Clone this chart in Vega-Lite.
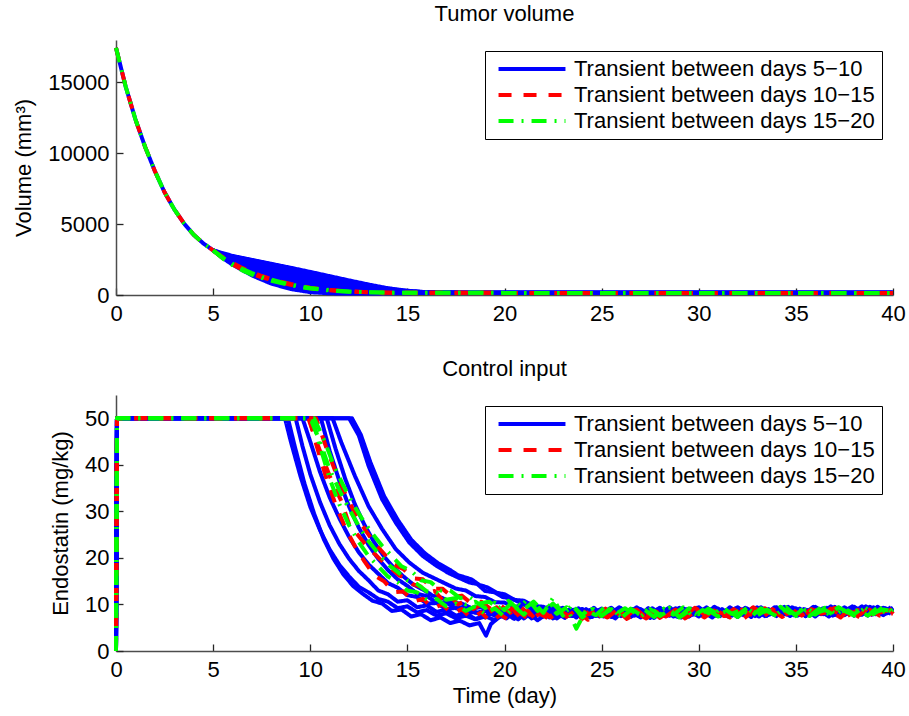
{
"$schema":"https://vega.github.io/schema/vega-lite/v6.json",
"padding":{"left":12,"top":3,"right":5,"bottom":5},
"bounds":"flush",
"spacing":100,
"config":{
"font":"Liberation Sans",
"view":{"stroke":null},
"axis":{"grid":false,"labelFontSize":22,"titleFontSize":22,"titleFontWeight":"normal","labelColor":"#000","titleColor":"#000","domainColor":"#4d4d4d","domainWidth":1.5,"tickColor":"#262626","tickWidth":1.3,"tickSize":-7,"labelFlush":false,"labelOverlap":false,"labelFont":"Liberation Sans","titleFont":"Liberation Sans"},
"axisX":{"labelPadding":15,"titlePadding":5},
"axisY":{"labelPadding":14,"titlePadding":12},
"title":{"fontSize":22,"fontWeight":"normal","color":"#000","offset":14,"anchor":"middle","frame":"group","font":"Liberation Sans"},
"legend":{"orient":"top-right","offset":11,"strokeColor":"#000","fillColor":"#fff","padding":7,"symbolType":"M-4,0H4","symbolSize":280,"symbolOffset":29,"symbolStrokeWidth":4.5,"labelFontSize":22,"labelColor":"#000","labelOffset":31,"rowPadding":4,"labelLimit":0,"labelFont":"Liberation Sans"},
"line":{"strokeWidth":4,"strokeCap":"butt","strokeJoin":"round"}
},
"datasets":{
"series":[
{"s":"b0","k":"b","name":"Transient between days 5−10"},
{"s":"r0","k":"r","name":"Transient between days 10−15"},
{"s":"g0","k":"g","name":"Transient between days 15−20"},
{"s":"bt1","k":"b","name":"Transient between days 5−10"},
{"s":"bt2","k":"b","name":"Transient between days 5−10"},
{"s":"bt3","k":"b","name":"Transient between days 5−10"},
{"s":"bt4","k":"b","name":"Transient between days 5−10"},
{"s":"bt5","k":"b","name":"Transient between days 5−10"},
{"s":"bt6","k":"b","name":"Transient between days 5−10"},
{"s":"bt7","k":"b","name":"Transient between days 5−10"},
{"s":"bt8","k":"b","name":"Transient between days 5−10"},
{"s":"rt1","k":"r","name":"Transient between days 10−15"},
{"s":"rt2","k":"r","name":"Transient between days 10−15"},
{"s":"gt1","k":"g","name":"Transient between days 15−20"},
{"s":"gt2","k":"g","name":"Transient between days 15−20"},
{"s":"B1","k":"b","name":"Transient between days 5−10"},
{"s":"B2","k":"b","name":"Transient between days 5−10"},
{"s":"B3","k":"b","name":"Transient between days 5−10"},
{"s":"B4","k":"b","name":"Transient between days 5−10"},
{"s":"B5","k":"b","name":"Transient between days 5−10"},
{"s":"B6","k":"b","name":"Transient between days 5−10"},
{"s":"B7","k":"b","name":"Transient between days 5−10"},
{"s":"B8","k":"b","name":"Transient between days 5−10"},
{"s":"B9","k":"b","name":"Transient between days 5−10"},
{"s":"R1","k":"r","name":"Transient between days 10−15"},
{"s":"R2","k":"r","name":"Transient between days 10−15"},
{"s":"R3","k":"r","name":"Transient between days 10−15"},
{"s":"G1","k":"g","name":"Transient between days 15−20"},
{"s":"G2","k":"g","name":"Transient between days 15−20"},
{"s":"G3","k":"g","name":"Transient between days 15−20"}
],
"vol":[
{"s":"b0","t":0,"v":17450},{"s":"b0","t":0.5,"v":14700},{"s":"b0","t":1,"v":12400},{"s":"b0","t":1.5,"v":10450},{"s":"b0","t":2,"v":8750},{"s":"b0","t":2.5,"v":7250},{"s":"b0","t":3,"v":6050},{"s":"b0","t":3.5,"v":5050},{"s":"b0","t":4,"v":4250},{"s":"b0","t":4.5,"v":3640},{"s":"b0","t":5,"v":3150},
{"s":"r0","t":0,"v":17450},{"s":"r0","t":0.5,"v":14700},{"s":"r0","t":1,"v":12400},{"s":"r0","t":1.5,"v":10450},{"s":"r0","t":2,"v":8750},{"s":"r0","t":2.5,"v":7250},{"s":"r0","t":3,"v":6050},{"s":"r0","t":3.5,"v":5050},{"s":"r0","t":4,"v":4250},{"s":"r0","t":4.5,"v":3640},{"s":"r0","t":5,"v":3150},
{"s":"g0","t":0,"v":17450},{"s":"g0","t":0.5,"v":14700},{"s":"g0","t":1,"v":12400},{"s":"g0","t":1.5,"v":10450},{"s":"g0","t":2,"v":8750},{"s":"g0","t":2.5,"v":7250},{"s":"g0","t":3,"v":6050},{"s":"g0","t":3.5,"v":5050},{"s":"g0","t":4,"v":4250},{"s":"g0","t":4.5,"v":3640},{"s":"g0","t":5,"v":3150},
{"s":"bt1","t":5,"v":3150},{"s":"bt1","t":5.5,"v":2600},{"s":"bt1","t":6,"v":2140},{"s":"bt1","t":7,"v":1380},{"s":"bt1","t":8,"v":800},{"s":"bt1","t":9,"v":420},{"s":"bt1","t":10,"v":200},{"s":"bt1","t":11,"v":120},{"s":"bt1","t":12,"v":100},{"s":"bt1","t":13,"v":105},{"s":"bt1","t":14,"v":120},{"s":"bt1","t":15,"v":130},{"s":"bt1","t":16,"v":140},{"s":"bt1","t":18,"v":150},{"s":"bt1","t":40,"v":150},
{"s":"bt2","t":5,"v":3150},{"s":"bt2","t":5.5,"v":2650},{"s":"bt2","t":6,"v":2230},{"s":"bt2","t":7,"v":1545},{"s":"bt2","t":8,"v":1010},{"s":"bt2","t":9,"v":645},{"s":"bt2","t":10,"v":415},{"s":"bt2","t":11,"v":300},{"s":"bt2","t":12,"v":240},{"s":"bt2","t":13,"v":200},{"s":"bt2","t":14,"v":175},{"s":"bt2","t":15,"v":155},{"s":"bt2","t":16,"v":150},{"s":"bt2","t":18,"v":152},{"s":"bt2","t":40,"v":150},
{"s":"bt3","t":5,"v":3150},{"s":"bt3","t":5.5,"v":2705},{"s":"bt3","t":6,"v":2325},{"s":"bt3","t":7,"v":1710},{"s":"bt3","t":8,"v":1220},{"s":"bt3","t":9,"v":870},{"s":"bt3","t":10,"v":630},{"s":"bt3","t":11,"v":480},{"s":"bt3","t":12,"v":380},{"s":"bt3","t":13,"v":295},{"s":"bt3","t":14,"v":230},{"s":"bt3","t":15,"v":180},{"s":"bt3","t":16,"v":158},{"s":"bt3","t":18,"v":154},{"s":"bt3","t":40,"v":150},
{"s":"bt4","t":5,"v":3150},{"s":"bt4","t":5.5,"v":2760},{"s":"bt4","t":6,"v":2420},{"s":"bt4","t":7,"v":1875},{"s":"bt4","t":8,"v":1430},{"s":"bt4","t":9,"v":1095},{"s":"bt4","t":10,"v":845},{"s":"bt4","t":11,"v":665},{"s":"bt4","t":12,"v":520},{"s":"bt4","t":13,"v":390},{"s":"bt4","t":14,"v":280},{"s":"bt4","t":15,"v":205},{"s":"bt4","t":16,"v":167},{"s":"bt4","t":18,"v":156},{"s":"bt4","t":40,"v":150},
{"s":"bt5","t":5,"v":3150},{"s":"bt5","t":5.5,"v":2810},{"s":"bt5","t":6,"v":2510},{"s":"bt5","t":7,"v":2040},{"s":"bt5","t":8,"v":1640},{"s":"bt5","t":9,"v":1320},{"s":"bt5","t":10,"v":1060},{"s":"bt5","t":11,"v":845},{"s":"bt5","t":12,"v":660},{"s":"bt5","t":13,"v":485},{"s":"bt5","t":14,"v":335},{"s":"bt5","t":15,"v":230},{"s":"bt5","t":16,"v":176},{"s":"bt5","t":18,"v":157},{"s":"bt5","t":40,"v":150},
{"s":"bt6","t":5,"v":3150},{"s":"bt6","t":5.5,"v":2860},{"s":"bt6","t":6,"v":2605},{"s":"bt6","t":7,"v":2205},{"s":"bt6","t":8,"v":1850},{"s":"bt6","t":9,"v":1545},{"s":"bt6","t":10,"v":1270},{"s":"bt6","t":11,"v":1030},{"s":"bt6","t":12,"v":800},{"s":"bt6","t":13,"v":580},{"s":"bt6","t":14,"v":390},{"s":"bt6","t":15,"v":258},{"s":"bt6","t":16,"v":185},{"s":"bt6","t":18,"v":158},{"s":"bt6","t":40,"v":150},
{"s":"bt7","t":5,"v":3150},{"s":"bt7","t":5.5,"v":2910},{"s":"bt7","t":6,"v":2685},{"s":"bt7","t":7,"v":2350},{"s":"bt7","t":8,"v":2030},{"s":"bt7","t":9,"v":1740},{"s":"bt7","t":10,"v":1460},{"s":"bt7","t":11,"v":1185},{"s":"bt7","t":12,"v":920},{"s":"bt7","t":13,"v":665},{"s":"bt7","t":14,"v":435},{"s":"bt7","t":15,"v":280},{"s":"bt7","t":16,"v":193},{"s":"bt7","t":18,"v":159},{"s":"bt7","t":40,"v":150},
{"s":"bt8","t":5,"v":3150},{"s":"bt8","t":5.5,"v":2950},{"s":"bt8","t":6,"v":2760},{"s":"bt8","t":7,"v":2480},{"s":"bt8","t":8,"v":2200},{"s":"bt8","t":9,"v":1920},{"s":"bt8","t":10,"v":1630},{"s":"bt8","t":11,"v":1330},{"s":"bt8","t":12,"v":1030},{"s":"bt8","t":13,"v":740},{"s":"bt8","t":14,"v":480},{"s":"bt8","t":15,"v":300},{"s":"bt8","t":16,"v":200},{"s":"bt8","t":18,"v":160},{"s":"bt8","t":40,"v":150},
{"s":"rt1","t":5,"v":3150},{"s":"rt1","t":5.5,"v":2600},{"s":"rt1","t":6,"v":2150},{"s":"rt1","t":6.5,"v":1800},{"s":"rt1","t":7,"v":1500},{"s":"rt1","t":7.5,"v":1250},{"s":"rt1","t":8,"v":1060},{"s":"rt1","t":8.5,"v":880},{"s":"rt1","t":9,"v":720},{"s":"rt1","t":9.5,"v":590},{"s":"rt1","t":10,"v":480},{"s":"rt1","t":11,"v":330},{"s":"rt1","t":12,"v":240},{"s":"rt1","t":13,"v":190},{"s":"rt1","t":14,"v":165},{"s":"rt1","t":15,"v":155},{"s":"rt1","t":20,"v":150},{"s":"rt1","t":40,"v":150},
{"s":"rt2","t":5,"v":3150},{"s":"rt2","t":5.5,"v":2680},{"s":"rt2","t":6,"v":2260},{"s":"rt2","t":6.5,"v":1910},{"s":"rt2","t":7,"v":1600},{"s":"rt2","t":7.5,"v":1340},{"s":"rt2","t":8,"v":1130},{"s":"rt2","t":8.5,"v":940},{"s":"rt2","t":9,"v":775},{"s":"rt2","t":9.5,"v":635},{"s":"rt2","t":10,"v":515},{"s":"rt2","t":11,"v":355},{"s":"rt2","t":12,"v":255},{"s":"rt2","t":13,"v":200},{"s":"rt2","t":14,"v":170},{"s":"rt2","t":15,"v":158},{"s":"rt2","t":20,"v":150},{"s":"rt2","t":40,"v":150},
{"s":"gt1","t":5,"v":3150},{"s":"gt1","t":5.5,"v":2640},{"s":"gt1","t":6,"v":2200},{"s":"gt1","t":6.5,"v":1850},{"s":"gt1","t":7,"v":1550},{"s":"gt1","t":7.5,"v":1290},{"s":"gt1","t":8,"v":1090},{"s":"gt1","t":8.5,"v":905},{"s":"gt1","t":9,"v":745},{"s":"gt1","t":9.5,"v":610},{"s":"gt1","t":10,"v":495},{"s":"gt1","t":11,"v":340},{"s":"gt1","t":12,"v":245},{"s":"gt1","t":13,"v":193},{"s":"gt1","t":14,"v":167},{"s":"gt1","t":15,"v":156},{"s":"gt1","t":20,"v":150},{"s":"gt1","t":40,"v":150},
{"s":"gt2","t":5,"v":3150},{"s":"gt2","t":5.5,"v":2570},{"s":"gt2","t":6,"v":2100},{"s":"gt2","t":6.5,"v":1740},{"s":"gt2","t":7,"v":1440},{"s":"gt2","t":7.5,"v":1200},{"s":"gt2","t":8,"v":1010},{"s":"gt2","t":8.5,"v":840},{"s":"gt2","t":9,"v":690},{"s":"gt2","t":9.5,"v":565},{"s":"gt2","t":10,"v":460},{"s":"gt2","t":11,"v":315},{"s":"gt2","t":12,"v":232},{"s":"gt2","t":13,"v":186},{"s":"gt2","t":14,"v":163},{"s":"gt2","t":15,"v":154},{"s":"gt2","t":20,"v":150},{"s":"gt2","t":40,"v":150}
],
"ctl":[
{"s":"B1","t":0,"v":0},{"s":"B1","t":0.05,"v":50},{"s":"B1","t":8.7,"v":50},{"s":"B1","t":9,"v":45},{"s":"B1","t":9.5,"v":37.5},{"s":"B1","t":10,"v":31},{"s":"B1","t":10.5,"v":26},{"s":"B1","t":11,"v":21.8},{"s":"B1","t":11.5,"v":18.5},{"s":"B1","t":12,"v":16},{"s":"B1","t":12.5,"v":13.8},{"s":"B1","t":13,"v":12.6},{"s":"B1","t":13.5,"v":11.2},{"s":"B1","t":14,"v":10.6},{"s":"B1","t":14.5,"v":9.2},{"s":"B1","t":15,"v":9.6},{"s":"B1","t":15.5,"v":8.3},{"s":"B1","t":16,"v":8.8},{"s":"B1","t":16.5,"v":7.6},{"s":"B1","t":17,"v":8.1},{"s":"B1","t":17.5,"v":7},{"s":"B1","t":18,"v":7.6},{"s":"B1","t":18.5,"v":6.8},{"s":"B1","t":19,"v":7.4},{"s":"B1","t":19.5,"v":8.5},
{"s":"B1","t":20,"v":7.2},{"s":"B1","t":20.5,"v":8.9},{"s":"B1","t":21,"v":7},{"s":"B1","t":21.5,"v":8.6},{"s":"B1","t":22,"v":7.4},{"s":"B1","t":22.5,"v":9.2},{"s":"B1","t":23,"v":7.6},{"s":"B1","t":23.5,"v":8.8},{"s":"B1","t":24,"v":7.1},{"s":"B1","t":24.5,"v":8.5},{"s":"B1","t":25,"v":7.8},{"s":"B1","t":25.5,"v":9.3},{"s":"B1","t":26,"v":7.5},{"s":"B1","t":26.5,"v":8.7},{"s":"B1","t":27,"v":7.2},{"s":"B1","t":27.5,"v":8.9},{"s":"B1","t":28,"v":8},{"s":"B1","t":28.5,"v":9.4},{"s":"B1","t":29,"v":7.6},{"s":"B1","t":29.5,"v":8.6},{"s":"B1","t":30,"v":7.4},{"s":"B1","t":30.5,"v":9},{"s":"B1","t":31,"v":7.9},{"s":"B1","t":31.5,"v":8.8},{"s":"B1","t":32,"v":7.3},{"s":"B1","t":32.5,"v":9.1},{"s":"B1","t":33,"v":7.7},{"s":"B1","t":33.5,"v":8.6},{"s":"B1","t":34,"v":7.5},{"s":"B1","t":34.5,"v":9.3},{"s":"B1","t":35,"v":8},{"s":"B1","t":35.5,"v":8.9},{"s":"B1","t":36,"v":7.4},{"s":"B1","t":36.5,"v":9.2},{"s":"B1","t":37,"v":7.8},{"s":"B1","t":37.5,"v":9.4},{"s":"B1","t":38,"v":7.6},{"s":"B1","t":38.5,"v":8.7},{"s":"B1","t":39,"v":7.9},{"s":"B1","t":39.5,"v":9.3},{"s":"B1","t":40,"v":8.2},
{"s":"B2","t":0,"v":0},{"s":"B2","t":0.05,"v":50},{"s":"B2","t":8.85,"v":50},{"s":"B2","t":9.2,"v":44},{"s":"B2","t":9.7,"v":36},{"s":"B2","t":10.2,"v":29.5},{"s":"B2","t":10.7,"v":24},{"s":"B2","t":11.2,"v":19.8},{"s":"B2","t":11.7,"v":16.5},{"s":"B2","t":12.2,"v":14},{"s":"B2","t":12.7,"v":12.3},{"s":"B2","t":13.2,"v":10.8},{"s":"B2","t":13.7,"v":10.2},{"s":"B2","t":14.2,"v":8.6},{"s":"B2","t":14.7,"v":8.9},{"s":"B2","t":15.2,"v":7.4},{"s":"B2","t":15.7,"v":7.9},{"s":"B2","t":16.2,"v":6.6},{"s":"B2","t":16.7,"v":7.2},{"s":"B2","t":17.2,"v":6},{"s":"B2","t":17.7,"v":6.5},{"s":"B2","t":18.2,"v":5.5},{"s":"B2","t":18.7,"v":6},{"s":"B2","t":19.05,"v":3.3},{"s":"B2","t":19.3,"v":5.8},{"s":"B2","t":19.7,"v":7.2},{"s":"B2","t":20.2,"v":8},
{"s":"B2","t":20.7,"v":6.8},{"s":"B2","t":21.2,"v":8.4},{"s":"B2","t":21.7,"v":6.6},{"s":"B2","t":22.2,"v":8.1},{"s":"B2","t":22.7,"v":7},{"s":"B2","t":23.2,"v":8.6},{"s":"B2","t":23.7,"v":7.2},{"s":"B2","t":24.2,"v":9},{"s":"B2","t":24.7,"v":7.5},{"s":"B2","t":25.2,"v":8.4},{"s":"B2","t":25.7,"v":7},{"s":"B2","t":26.2,"v":8.9},{"s":"B2","t":26.7,"v":7.6},{"s":"B2","t":27.2,"v":8.3},{"s":"B2","t":27.7,"v":7.1},{"s":"B2","t":28.2,"v":8.8},{"s":"B2","t":28.7,"v":7.4},{"s":"B2","t":29.2,"v":9.2},{"s":"B2","t":29.7,"v":7.8},{"s":"B2","t":30.2,"v":8.5},{"s":"B2","t":30.7,"v":7.2},{"s":"B2","t":31.2,"v":9},{"s":"B2","t":31.7,"v":7.6},{"s":"B2","t":32.2,"v":8.6},{"s":"B2","t":32.7,"v":7.3},{"s":"B2","t":33.2,"v":9.4},{"s":"B2","t":33.7,"v":7.9},{"s":"B2","t":34.2,"v":8.7},{"s":"B2","t":34.7,"v":7.5},{"s":"B2","t":35.2,"v":9.1},{"s":"B2","t":35.7,"v":7.7},{"s":"B2","t":36.2,"v":8.8},{"s":"B2","t":36.7,"v":7.4},{"s":"B2","t":37.2,"v":9.3},{"s":"B2","t":37.7,"v":8},{"s":"B2","t":38.2,"v":9},{"s":"B2","t":38.7,"v":7.6},{"s":"B2","t":39.2,"v":9.5},{"s":"B2","t":39.7,"v":8.1},{"s":"B2","t":40,"v":8.8},
{"s":"B3","t":0,"v":0},{"s":"B3","t":0.05,"v":50},{"s":"B3","t":9.25,"v":50},{"s":"B3","t":9.6,"v":44},{"s":"B3","t":10,"v":38},{"s":"B3","t":10.5,"v":32},{"s":"B3","t":11,"v":27},{"s":"B3","t":11.5,"v":23},{"s":"B3","t":12,"v":19.8},{"s":"B3","t":12.5,"v":17.2},{"s":"B3","t":13,"v":15.2},{"s":"B3","t":13.5,"v":13},{"s":"B3","t":14,"v":12.2},{"s":"B3","t":14.5,"v":10.6},{"s":"B3","t":15,"v":10.9},{"s":"B3","t":15.5,"v":9.4},{"s":"B3","t":16,"v":9.8},{"s":"B3","t":16.5,"v":8.4},{"s":"B3","t":17,"v":8.9},{"s":"B3","t":17.5,"v":7.6},{"s":"B3","t":18,"v":8.1},{"s":"B3","t":18.5,"v":6.9},{"s":"B3","t":19,"v":7.5},{"s":"B3","t":19.5,"v":6.6},
{"s":"B3","t":20,"v":8.2},{"s":"B3","t":20.5,"v":6.9},{"s":"B3","t":21,"v":8.5},{"s":"B3","t":21.5,"v":7.2},{"s":"B3","t":22,"v":8.8},{"s":"B3","t":22.5,"v":7},{"s":"B3","t":23,"v":8.3},{"s":"B3","t":23.5,"v":7.5},{"s":"B3","t":24,"v":9},{"s":"B3","t":24.5,"v":7.3},{"s":"B3","t":25,"v":8.6},{"s":"B3","t":25.5,"v":7.8},{"s":"B3","t":26,"v":9.2},{"s":"B3","t":26.5,"v":7.4},{"s":"B3","t":27,"v":8.4},{"s":"B3","t":27.5,"v":7.1},{"s":"B3","t":28,"v":8.9},{"s":"B3","t":28.5,"v":7.7},{"s":"B3","t":29,"v":9.3},{"s":"B3","t":29.5,"v":7.5},{"s":"B3","t":30,"v":8.6},{"s":"B3","t":30.5,"v":7.9},{"s":"B3","t":31,"v":9.1},{"s":"B3","t":31.5,"v":7.4},{"s":"B3","t":32,"v":8.8},{"s":"B3","t":32.5,"v":7.8},{"s":"B3","t":33,"v":9.4},{"s":"B3","t":33.5,"v":7.6},{"s":"B3","t":34,"v":8.5},{"s":"B3","t":34.5,"v":7.9},{"s":"B3","t":35,"v":9.2},{"s":"B3","t":35.5,"v":7.5},{"s":"B3","t":36,"v":8.9},{"s":"B3","t":36.5,"v":8},{"s":"B3","t":37,"v":9.5},{"s":"B3","t":37.5,"v":7.7},{"s":"B3","t":38,"v":9},{"s":"B3","t":38.5,"v":8.1},{"s":"B3","t":39,"v":9.4},{"s":"B3","t":39.5,"v":7.8},{"s":"B3","t":40,"v":8.9},
{"s":"B4","t":0,"v":0},{"s":"B4","t":0.05,"v":50},{"s":"B4","t":9.6,"v":50},{"s":"B4","t":10,"v":45},{"s":"B4","t":10.5,"v":38.5},{"s":"B4","t":11,"v":33},{"s":"B4","t":11.5,"v":28.5},{"s":"B4","t":12,"v":24.5},{"s":"B4","t":12.5,"v":21.2},{"s":"B4","t":13,"v":18.6},{"s":"B4","t":13.5,"v":16.6},{"s":"B4","t":14,"v":14.6},{"s":"B4","t":14.5,"v":13.6},{"s":"B4","t":15,"v":12},{"s":"B4","t":15.5,"v":11.6},{"s":"B4","t":16,"v":10.2},{"s":"B4","t":16.5,"v":10.3},{"s":"B4","t":17,"v":9},{"s":"B4","t":17.5,"v":9.3},{"s":"B4","t":18,"v":8},{"s":"B4","t":18.5,"v":8.4},{"s":"B4","t":19,"v":7.2},
{"s":"B4","t":19.5,"v":8.6},{"s":"B4","t":20.1,"v":7},{"s":"B4","t":20.6,"v":8.7},{"s":"B4","t":21.1,"v":7.4},{"s":"B4","t":21.6,"v":9.1},{"s":"B4","t":22.1,"v":7.6},{"s":"B4","t":22.6,"v":8.5},{"s":"B4","t":23.1,"v":7.1},{"s":"B4","t":23.6,"v":8.9},{"s":"B4","t":24.1,"v":7.7},{"s":"B4","t":24.6,"v":9.3},{"s":"B4","t":25.1,"v":7.4},{"s":"B4","t":25.6,"v":8.8},{"s":"B4","t":26.1,"v":7.9},{"s":"B4","t":26.6,"v":9},{"s":"B4","t":27.1,"v":7.5},{"s":"B4","t":27.6,"v":9.2},{"s":"B4","t":28.1,"v":7.8},{"s":"B4","t":28.6,"v":8.6},{"s":"B4","t":29.1,"v":7.2},{"s":"B4","t":29.6,"v":9.1},{"s":"B4","t":30.1,"v":7.7},{"s":"B4","t":30.6,"v":8.9},{"s":"B4","t":31.1,"v":7.5},{"s":"B4","t":31.6,"v":9.4},{"s":"B4","t":32.1,"v":8},{"s":"B4","t":32.6,"v":8.7},{"s":"B4","t":33.1,"v":7.4},{"s":"B4","t":33.6,"v":9},{"s":"B4","t":34.1,"v":7.8},{"s":"B4","t":34.6,"v":9.5},{"s":"B4","t":35.1,"v":7.6},{"s":"B4","t":35.6,"v":8.8},{"s":"B4","t":36.1,"v":8.1},{"s":"B4","t":36.6,"v":9.3},{"s":"B4","t":37.1,"v":7.7},{"s":"B4","t":37.6,"v":9.1},{"s":"B4","t":38.1,"v":8},{"s":"B4","t":38.6,"v":9.6},{"s":"B4","t":39.1,"v":7.9},{"s":"B4","t":39.6,"v":9.2},{"s":"B4","t":40,"v":8.3},
{"s":"B5","t":0,"v":0},{"s":"B5","t":0.05,"v":50},{"s":"B5","t":10.55,"v":50},{"s":"B5","t":11,"v":43},{"s":"B5","t":11.5,"v":36.5},{"s":"B5","t":12,"v":31},{"s":"B5","t":12.5,"v":26.5},{"s":"B5","t":13,"v":22.8},{"s":"B5","t":13.5,"v":19.8},{"s":"B5","t":14,"v":17.4},{"s":"B5","t":14.5,"v":15.4},{"s":"B5","t":15,"v":14},{"s":"B5","t":15.5,"v":12.3},{"s":"B5","t":16,"v":11.8},{"s":"B5","t":16.5,"v":10.4},{"s":"B5","t":17,"v":10.4},{"s":"B5","t":17.5,"v":9.2},{"s":"B5","t":18,"v":9.4},{"s":"B5","t":18.5,"v":8.2},{"s":"B5","t":19,"v":8.6},
{"s":"B5","t":19.5,"v":7.6},{"s":"B5","t":20,"v":9},{"s":"B5","t":20.4,"v":7.4},{"s":"B5","t":20.9,"v":8.7},{"s":"B5","t":21.4,"v":7},{"s":"B5","t":21.9,"v":8.4},{"s":"B5","t":22.4,"v":7.3},{"s":"B5","t":22.9,"v":9.1},{"s":"B5","t":23.4,"v":7.6},{"s":"B5","t":23.9,"v":8.6},{"s":"B5","t":24.4,"v":7.2},{"s":"B5","t":24.9,"v":8.9},{"s":"B5","t":25.4,"v":7.7},{"s":"B5","t":25.9,"v":9.4},{"s":"B5","t":26.4,"v":7.9},{"s":"B5","t":26.9,"v":8.5},{"s":"B5","t":27.4,"v":7.3},{"s":"B5","t":27.9,"v":9},{"s":"B5","t":28.4,"v":7.6},{"s":"B5","t":28.9,"v":8.8},{"s":"B5","t":29.4,"v":7.4},{"s":"B5","t":29.9,"v":9.3},{"s":"B5","t":30.4,"v":8},{"s":"B5","t":30.9,"v":8.6},{"s":"B5","t":31.4,"v":7.6},{"s":"B5","t":31.9,"v":9.2},{"s":"B5","t":32.4,"v":7.9},{"s":"B5","t":32.9,"v":8.8},{"s":"B5","t":33.4,"v":7.5},{"s":"B5","t":33.9,"v":9.4},{"s":"B5","t":34.4,"v":8.1},{"s":"B5","t":34.9,"v":8.7},{"s":"B5","t":35.4,"v":7.8},{"s":"B5","t":35.9,"v":9.5},{"s":"B5","t":36.4,"v":7.9},{"s":"B5","t":36.9,"v":9},{"s":"B5","t":37.4,"v":8.2},{"s":"B5","t":37.9,"v":9.6},{"s":"B5","t":38.4,"v":7.8},{"s":"B5","t":38.9,"v":9.1},{"s":"B5","t":39.4,"v":8},{"s":"B5","t":39.9,"v":9.4},
{"s":"B6","t":0,"v":0},{"s":"B6","t":0.05,"v":50},{"s":"B6","t":10.85,"v":50},{"s":"B6","t":11.3,"v":43.5},{"s":"B6","t":11.8,"v":37},{"s":"B6","t":12.3,"v":31.5},{"s":"B6","t":12.8,"v":27},{"s":"B6","t":13.3,"v":23.3},{"s":"B6","t":13.8,"v":20.3},{"s":"B6","t":14.3,"v":17.9},{"s":"B6","t":14.8,"v":16},{"s":"B6","t":15.3,"v":14.3},{"s":"B6","t":15.8,"v":13.2},{"s":"B6","t":16.3,"v":11.9},{"s":"B6","t":16.8,"v":11.4},{"s":"B6","t":17.3,"v":10.3},{"s":"B6","t":17.8,"v":10.2},{"s":"B6","t":18.3,"v":9.2},{"s":"B6","t":18.8,"v":9.4},{"s":"B6","t":19.3,"v":8.4},{"s":"B6","t":19.8,"v":8.8},
{"s":"B6","t":20.3,"v":7.9},{"s":"B6","t":20.8,"v":9.4},{"s":"B6","t":21.3,"v":7.6},{"s":"B6","t":21.8,"v":8.9},{"s":"B6","t":22.3,"v":7.2},{"s":"B6","t":22.8,"v":8.6},{"s":"B6","t":23.3,"v":7.5},{"s":"B6","t":23.8,"v":9.2},{"s":"B6","t":24.3,"v":7.8},{"s":"B6","t":24.8,"v":8.7},{"s":"B6","t":25.3,"v":7.3},{"s":"B6","t":25.8,"v":9},{"s":"B6","t":26.3,"v":7.7},{"s":"B6","t":26.8,"v":9.4},{"s":"B6","t":27.3,"v":8.1},{"s":"B6","t":27.8,"v":8.6},{"s":"B6","t":28.3,"v":7.5},{"s":"B6","t":28.8,"v":9.2},{"s":"B6","t":29.3,"v":7.9},{"s":"B6","t":29.8,"v":8.8},{"s":"B6","t":30.3,"v":7.6},{"s":"B6","t":30.8,"v":9.5},{"s":"B6","t":31.3,"v":8.2},{"s":"B6","t":31.8,"v":8.7},{"s":"B6","t":32.3,"v":7.7},{"s":"B6","t":32.8,"v":9.3},{"s":"B6","t":33.3,"v":8},{"s":"B6","t":33.8,"v":8.9},{"s":"B6","t":34.3,"v":7.6},{"s":"B6","t":34.8,"v":9.4},{"s":"B6","t":35.3,"v":8.2},{"s":"B6","t":35.8,"v":8.8},{"s":"B6","t":36.3,"v":7.9},{"s":"B6","t":36.8,"v":9.6},{"s":"B6","t":37.3,"v":8.1},{"s":"B6","t":37.8,"v":9.2},{"s":"B6","t":38.3,"v":7.8},{"s":"B6","t":38.8,"v":9.5},{"s":"B6","t":39.3,"v":8.3},{"s":"B6","t":39.8,"v":9},{"s":"B6","t":40,"v":8.6},
{"s":"B7","t":0,"v":0},{"s":"B7","t":0.05,"v":50},{"s":"B7","t":11.15,"v":50},{"s":"B7","t":11.6,"v":44.8},{"s":"B7","t":12.3,"v":37.6},{"s":"B7","t":13,"v":31.1},{"s":"B7","t":13.7,"v":26.2},{"s":"B7","t":14.4,"v":21.9},{"s":"B7","t":15.1,"v":19},{"s":"B7","t":15.8,"v":16.8},{"s":"B7","t":16.5,"v":15.4},{"s":"B7","t":17,"v":14.4},{"s":"B7","t":17.5,"v":13.4},{"s":"B7","t":18,"v":13},{"s":"B7","t":18.5,"v":11.8},{"s":"B7","t":19,"v":11.6},{"s":"B7","t":19.5,"v":10.5},{"s":"B7","t":20,"v":10.4},{"s":"B7","t":20.5,"v":9.4},
{"s":"B7","t":21,"v":10},{"s":"B7","t":21.5,"v":8.8},{"s":"B7","t":22,"v":9.4},{"s":"B7","t":22.5,"v":8},{"s":"B7","t":23,"v":9},{"s":"B7","t":23.5,"v":7.6},{"s":"B7","t":24,"v":8.8},{"s":"B7","t":24.5,"v":7.4},{"s":"B7","t":25,"v":9.1},{"s":"B7","t":25.5,"v":7.8},{"s":"B7","t":26,"v":8.6},{"s":"B7","t":26.5,"v":7.3},{"s":"B7","t":27,"v":9},{"s":"B7","t":27.5,"v":7.9},{"s":"B7","t":28,"v":9.3},{"s":"B7","t":28.5,"v":7.6},{"s":"B7","t":29,"v":8.7},{"s":"B7","t":29.5,"v":7.4},{"s":"B7","t":30,"v":9.2},{"s":"B7","t":30.5,"v":8},{"s":"B7","t":31,"v":8.8},{"s":"B7","t":31.5,"v":7.5},{"s":"B7","t":32,"v":9.4},{"s":"B7","t":32.5,"v":7.9},{"s":"B7","t":33,"v":8.6},{"s":"B7","t":33.5,"v":7.7},{"s":"B7","t":34,"v":9.3},{"s":"B7","t":34.5,"v":8.1},{"s":"B7","t":35,"v":8.8},{"s":"B7","t":35.5,"v":7.6},{"s":"B7","t":36,"v":9.5},{"s":"B7","t":36.5,"v":8},{"s":"B7","t":37,"v":9},{"s":"B7","t":37.5,"v":7.8},{"s":"B7","t":38,"v":9.4},{"s":"B7","t":38.5,"v":8.2},{"s":"B7","t":39,"v":8.9},{"s":"B7","t":39.5,"v":7.9},{"s":"B7","t":40,"v":9.3},
{"s":"B8","t":0,"v":0},{"s":"B8","t":0.05,"v":50},{"s":"B8","t":12,"v":50},{"s":"B8","t":12.5,"v":46.3},{"s":"B8","t":13,"v":39.8},{"s":"B8","t":13.7,"v":32.6},{"s":"B8","t":14.4,"v":27.6},{"s":"B8","t":15.1,"v":23.3},{"s":"B8","t":15.8,"v":20.4},{"s":"B8","t":16.5,"v":18.3},{"s":"B8","t":17.1,"v":16.8},{"s":"B8","t":17.5,"v":16},{"s":"B8","t":18.2,"v":14.7},{"s":"B8","t":18.6,"v":14.4},{"s":"B8","t":19,"v":12.9},{"s":"B8","t":19.5,"v":12.6},{"s":"B8","t":19.9,"v":11.6},{"s":"B8","t":20.4,"v":11.2},{"s":"B8","t":20.9,"v":10.2},{"s":"B8","t":21.4,"v":10},{"s":"B8","t":21.9,"v":9},
{"s":"B8","t":22.4,"v":9.6},{"s":"B8","t":22.9,"v":8.2},{"s":"B8","t":23.4,"v":9},{"s":"B8","t":23.9,"v":7.6},{"s":"B8","t":24.4,"v":8.8},{"s":"B8","t":24.9,"v":7.4},{"s":"B8","t":25.4,"v":9.1},{"s":"B8","t":25.9,"v":7.9},{"s":"B8","t":26.4,"v":8.6},{"s":"B8","t":26.9,"v":7.5},{"s":"B8","t":27.4,"v":9.2},{"s":"B8","t":27.9,"v":7.7},{"s":"B8","t":28.4,"v":8.9},{"s":"B8","t":28.9,"v":7.3},{"s":"B8","t":29.4,"v":9},{"s":"B8","t":29.9,"v":7.8},{"s":"B8","t":30.4,"v":9.4},{"s":"B8","t":30.9,"v":7.6},{"s":"B8","t":31.4,"v":8.7},{"s":"B8","t":31.9,"v":7.9},{"s":"B8","t":32.4,"v":9.3},{"s":"B8","t":32.9,"v":7.5},{"s":"B8","t":33.4,"v":8.8},{"s":"B8","t":33.9,"v":8},{"s":"B8","t":34.4,"v":9.5},{"s":"B8","t":34.9,"v":7.7},{"s":"B8","t":35.4,"v":9},{"s":"B8","t":35.9,"v":7.9},{"s":"B8","t":36.4,"v":9.2},{"s":"B8","t":36.9,"v":7.6},{"s":"B8","t":37.4,"v":8.9},{"s":"B8","t":37.9,"v":8.1},{"s":"B8","t":38.4,"v":9.6},{"s":"B8","t":38.9,"v":7.8},{"s":"B8","t":39.4,"v":9.1},{"s":"B8","t":39.9,"v":8},
{"s":"B9","t":0,"v":0},{"s":"B9","t":0.05,"v":50},{"s":"B9","t":12.15,"v":50},{"s":"B9","t":12.6,"v":46.5},{"s":"B9","t":13.1,"v":40.5},{"s":"B9","t":13.8,"v":33.3},{"s":"B9","t":14.5,"v":28.2},{"s":"B9","t":15.2,"v":23.9},{"s":"B9","t":15.9,"v":21},{"s":"B9","t":16.6,"v":18.8},{"s":"B9","t":17.2,"v":17.4},{"s":"B9","t":17.6,"v":16.3},{"s":"B9","t":18.3,"v":15.4},{"s":"B9","t":18.7,"v":14.2},{"s":"B9","t":19.1,"v":13.7},{"s":"B9","t":19.6,"v":12.5},{"s":"B9","t":20,"v":12.2},{"s":"B9","t":20.5,"v":11},{"s":"B9","t":21,"v":10.8},{"s":"B9","t":21.5,"v":9.7},{"s":"B9","t":22,"v":9.5},
{"s":"B9","t":22.5,"v":8.4},{"s":"B9","t":23,"v":9.3},{"s":"B9","t":23.5,"v":8},{"s":"B9","t":24,"v":9},{"s":"B9","t":24.5,"v":7.6},{"s":"B9","t":25,"v":8.7},{"s":"B9","t":25.5,"v":7.3},{"s":"B9","t":26,"v":9.1},{"s":"B9","t":26.5,"v":7.8},{"s":"B9","t":27,"v":8.5},{"s":"B9","t":27.5,"v":7.4},{"s":"B9","t":28,"v":9.2},{"s":"B9","t":28.5,"v":8},{"s":"B9","t":29,"v":8.8},{"s":"B9","t":29.5,"v":7.5},{"s":"B9","t":30,"v":9.4},{"s":"B9","t":30.5,"v":7.9},{"s":"B9","t":31,"v":8.6},{"s":"B9","t":31.5,"v":7.7},{"s":"B9","t":32,"v":9.2},{"s":"B9","t":32.5,"v":8.1},{"s":"B9","t":33,"v":8.7},{"s":"B9","t":33.5,"v":7.6},{"s":"B9","t":34,"v":9.4},{"s":"B9","t":34.5,"v":7.9},{"s":"B9","t":35,"v":8.9},{"s":"B9","t":35.5,"v":7.5},{"s":"B9","t":36,"v":9.3},{"s":"B9","t":36.5,"v":8},{"s":"B9","t":37,"v":8.7},{"s":"B9","t":37.5,"v":7.8},{"s":"B9","t":38,"v":9.5},{"s":"B9","t":38.5,"v":8.2},{"s":"B9","t":39,"v":9},{"s":"B9","t":39.5,"v":7.7},{"s":"B9","t":40,"v":9.2},
{"s":"R1","t":0,"v":0},{"s":"R1","t":0.05,"v":50},{"s":"R1","t":9.9,"v":50},{"s":"R1","t":10.1,"v":47.6},{"s":"R1","t":10.5,"v":43},{"s":"R1","t":11,"v":37.6},{"s":"R1","t":11.6,"v":32.2},{"s":"R1","t":12,"v":27.2},{"s":"R1","t":12.9,"v":22.6},{"s":"R1","t":13.6,"v":19.7},{"s":"R1","t":14.2,"v":17.6},{"s":"R1","t":14.6,"v":16.2},{"s":"R1","t":15,"v":15.5},{"s":"R1","t":15.3,"v":14.3},{"s":"R1","t":15.7,"v":13.8},{"s":"R1","t":16,"v":12.4},{"s":"R1","t":16.4,"v":12.9},{"s":"R1","t":16.8,"v":11},{"s":"R1","t":17.2,"v":11.8},{"s":"R1","t":17.6,"v":10},{"s":"R1","t":18,"v":10.8},{"s":"R1","t":18.4,"v":9},{"s":"R1","t":18.8,"v":10},{"s":"R1","t":19.2,"v":8.2},{"s":"R1","t":19.6,"v":9.4},
{"s":"R1","t":20,"v":7.6},{"s":"R1","t":20.4,"v":9.2},{"s":"R1","t":20.8,"v":7},{"s":"R1","t":21.2,"v":8.6},{"s":"R1","t":21.6,"v":6.8},{"s":"R1","t":22,"v":8.4},{"s":"R1","t":22.4,"v":7.2},{"s":"R1","t":22.8,"v":9},{"s":"R1","t":23.2,"v":7.4},{"s":"R1","t":23.6,"v":8.5},{"s":"R1","t":24,"v":6.9},{"s":"R1","t":24.4,"v":8.7},{"s":"R1","t":24.8,"v":7.3},{"s":"R1","t":25.2,"v":9.1},{"s":"R1","t":25.6,"v":7.6},{"s":"R1","t":26,"v":8.4},{"s":"R1","t":26.4,"v":7},{"s":"R1","t":26.8,"v":8.9},{"s":"R1","t":27.2,"v":7.5},{"s":"R1","t":27.6,"v":8.6},{"s":"R1","t":28,"v":7.1},{"s":"R1","t":28.6,"v":8.8},{"s":"R1","t":29.2,"v":7.4},{"s":"R1","t":29.8,"v":9},{"s":"R1","t":30.4,"v":7.7},{"s":"R1","t":31,"v":8.5},{"s":"R1","t":31.6,"v":7.2},{"s":"R1","t":32.2,"v":8.9},{"s":"R1","t":32.8,"v":7.6},{"s":"R1","t":33.4,"v":9.2},{"s":"R1","t":34,"v":7.5},{"s":"R1","t":34.6,"v":8.7},{"s":"R1","t":35.2,"v":7.3},{"s":"R1","t":35.8,"v":9},{"s":"R1","t":36.4,"v":7.8},{"s":"R1","t":37,"v":9.3},{"s":"R1","t":37.6,"v":7.4},{"s":"R1","t":38.2,"v":8.8},{"s":"R1","t":38.8,"v":7.7},{"s":"R1","t":39.4,"v":9.1},{"s":"R1","t":40,"v":7.9},
{"s":"R2","t":0,"v":0},{"s":"R2","t":0.05,"v":50},{"s":"R2","t":10.3,"v":50},{"s":"R2","t":10.8,"v":44},{"s":"R2","t":11.3,"v":38.5},{"s":"R2","t":11.8,"v":33.8},{"s":"R2","t":12.3,"v":29.6},{"s":"R2","t":12.8,"v":26.2},{"s":"R2","t":13.3,"v":23.2},{"s":"R2","t":13.8,"v":20.9},{"s":"R2","t":14.3,"v":18.6},{"s":"R2","t":14.8,"v":17.6},{"s":"R2","t":15.3,"v":15.6},{"s":"R2","t":15.8,"v":15.4},{"s":"R2","t":16.3,"v":13.4},{"s":"R2","t":16.8,"v":13.4},{"s":"R2","t":17.3,"v":11.6},{"s":"R2","t":17.8,"v":11.9},{"s":"R2","t":18.3,"v":10.2},{"s":"R2","t":18.8,"v":10.6},{"s":"R2","t":19.3,"v":9},{"s":"R2","t":19.8,"v":9.8},
{"s":"R2","t":20.3,"v":8.2},{"s":"R2","t":20.8,"v":9.6},{"s":"R2","t":21.3,"v":7.8},{"s":"R2","t":21.8,"v":9},{"s":"R2","t":22.3,"v":7.3},{"s":"R2","t":22.8,"v":8.7},{"s":"R2","t":23.3,"v":7.6},{"s":"R2","t":23.8,"v":9.2},{"s":"R2","t":24.3,"v":7.9},{"s":"R2","t":24.8,"v":8.6},{"s":"R2","t":25.3,"v":7.2},{"s":"R2","t":25.8,"v":8.8},{"s":"R2","t":26.3,"v":7.5},{"s":"R2","t":26.8,"v":9.1},{"s":"R2","t":27.3,"v":7.8},{"s":"R2","t":27.8,"v":8.5},{"s":"R2","t":28.3,"v":7.1},{"s":"R2","t":28.8,"v":8.9},{"s":"R2","t":29.3,"v":7.6},{"s":"R2","t":29.8,"v":9.3},{"s":"R2","t":30.3,"v":8},{"s":"R2","t":30.8,"v":8.7},{"s":"R2","t":31.3,"v":7.4},{"s":"R2","t":31.8,"v":9},{"s":"R2","t":32.3,"v":7.7},{"s":"R2","t":32.8,"v":9.4},{"s":"R2","t":33.3,"v":8.1},{"s":"R2","t":33.8,"v":8.6},{"s":"R2","t":34.3,"v":7.3},{"s":"R2","t":34.8,"v":8.9},{"s":"R2","t":35.3,"v":7.6},{"s":"R2","t":35.8,"v":9.2},{"s":"R2","t":36.3,"v":8},{"s":"R2","t":36.8,"v":8.5},{"s":"R2","t":37.3,"v":7.2},{"s":"R2","t":37.8,"v":9.1},{"s":"R2","t":38.3,"v":7.8},{"s":"R2","t":38.8,"v":9.5},{"s":"R2","t":39.3,"v":8.2},{"s":"R2","t":39.8,"v":8.8},{"s":"R2","t":40,"v":8.4},
{"s":"R3","t":0,"v":0},{"s":"R3","t":0.05,"v":50},{"s":"R3","t":9.95,"v":50},{"s":"R3","t":10.3,"v":44.5},{"s":"R3","t":10.8,"v":37.5},{"s":"R3","t":11.3,"v":31.5},{"s":"R3","t":11.8,"v":26.5},{"s":"R3","t":12.3,"v":22.5},{"s":"R3","t":12.8,"v":19.2},{"s":"R3","t":13.3,"v":16.2},{"s":"R3","t":13.8,"v":15},{"s":"R3","t":14.3,"v":12.6},{"s":"R3","t":14.8,"v":12.8},{"s":"R3","t":15.3,"v":10.6},{"s":"R3","t":15.8,"v":11.2},{"s":"R3","t":16.3,"v":9.2},{"s":"R3","t":16.8,"v":10},{"s":"R3","t":17.3,"v":8},{"s":"R3","t":17.8,"v":9},{"s":"R3","t":18.3,"v":7},{"s":"R3","t":18.8,"v":8.3},{"s":"R3","t":19.3,"v":6.2},{"s":"R3","t":19.8,"v":7.8},
{"s":"R3","t":20.3,"v":6.4},{"s":"R3","t":20.8,"v":8.2},{"s":"R3","t":21.3,"v":6.6},{"s":"R3","t":21.8,"v":8},{"s":"R3","t":22.3,"v":6.9},{"s":"R3","t":22.8,"v":8.5},{"s":"R3","t":23.3,"v":7.1},{"s":"R3","t":23.8,"v":8.3},{"s":"R3","t":24.3,"v":6.7},{"s":"R3","t":24.8,"v":8.1},{"s":"R3","t":25.3,"v":7.3},{"s":"R3","t":25.8,"v":8.7},{"s":"R3","t":26.3,"v":6.9},{"s":"R3","t":26.8,"v":8.2},{"s":"R3","t":27.3,"v":7},{"s":"R3","t":27.8,"v":8.6},{"s":"R3","t":28.3,"v":7.4},{"s":"R3","t":28.8,"v":8.9},{"s":"R3","t":29.3,"v":7},{"s":"R3","t":29.8,"v":8.4},{"s":"R3","t":30.3,"v":7.2},{"s":"R3","t":30.8,"v":8.8},{"s":"R3","t":31.3,"v":7.5},{"s":"R3","t":31.8,"v":8.3},{"s":"R3","t":32.3,"v":6.9},{"s":"R3","t":32.8,"v":8.6},{"s":"R3","t":33.3,"v":7.3},{"s":"R3","t":33.8,"v":9},{"s":"R3","t":34.3,"v":7.6},{"s":"R3","t":34.8,"v":8.4},{"s":"R3","t":35.3,"v":7.1},{"s":"R3","t":35.8,"v":8.7},{"s":"R3","t":36.3,"v":7.4},{"s":"R3","t":36.8,"v":9.1},{"s":"R3","t":37.3,"v":7.7},{"s":"R3","t":37.8,"v":8.5},{"s":"R3","t":38.3,"v":7.2},{"s":"R3","t":38.8,"v":8.9},{"s":"R3","t":39.3,"v":7.6},{"s":"R3","t":39.8,"v":9.2},{"s":"R3","t":40,"v":8},
{"s":"G1","t":0,"v":0},{"s":"G1","t":0.05,"v":50},{"s":"G1","t":10,"v":50},{"s":"G1","t":10.5,"v":45},{"s":"G1","t":11,"v":39},{"s":"G1","t":11.5,"v":34.5},{"s":"G1","t":12,"v":30.5},{"s":"G1","t":12.5,"v":26.8},{"s":"G1","t":13,"v":23.6},{"s":"G1","t":13.5,"v":21},{"s":"G1","t":14,"v":18.6},{"s":"G1","t":14.5,"v":17},{"s":"G1","t":15,"v":15.2},{"s":"G1","t":15.5,"v":14.4},{"s":"G1","t":16,"v":12.8},{"s":"G1","t":16.5,"v":12.6},{"s":"G1","t":17,"v":11},{"s":"G1","t":17.5,"v":11.4},{"s":"G1","t":18,"v":10},{"s":"G1","t":18.5,"v":10.6},{"s":"G1","t":19,"v":9.2},{"s":"G1","t":19.5,"v":10.4},
{"s":"G1","t":20,"v":8.8},{"s":"G1","t":20.5,"v":11},{"s":"G1","t":21,"v":9},{"s":"G1","t":21.5,"v":10.6},{"s":"G1","t":22,"v":8.4},{"s":"G1","t":22.5,"v":10.2},{"s":"G1","t":23,"v":8},{"s":"G1","t":23.5,"v":9.6},{"s":"G1","t":24,"v":7.8},{"s":"G1","t":24.5,"v":9.3},{"s":"G1","t":25,"v":7.6},{"s":"G1","t":25.5,"v":9},{"s":"G1","t":26,"v":7.4},{"s":"G1","t":26.5,"v":9.1},{"s":"G1","t":27,"v":7.8},{"s":"G1","t":27.5,"v":9.4},{"s":"G1","t":28,"v":7.5},{"s":"G1","t":28.5,"v":8.8},{"s":"G1","t":29,"v":7.3},{"s":"G1","t":29.5,"v":9.2},{"s":"G1","t":30,"v":7.9},{"s":"G1","t":30.5,"v":8.7},{"s":"G1","t":31,"v":7.4},{"s":"G1","t":31.5,"v":9},{"s":"G1","t":32,"v":7.7},{"s":"G1","t":32.5,"v":9.3},{"s":"G1","t":33,"v":8},{"s":"G1","t":33.5,"v":8.6},{"s":"G1","t":34,"v":7.5},{"s":"G1","t":34.5,"v":9.1},{"s":"G1","t":35,"v":7.8},{"s":"G1","t":35.5,"v":9.4},{"s":"G1","t":36,"v":8.1},{"s":"G1","t":36.5,"v":8.8},{"s":"G1","t":37,"v":7.6},{"s":"G1","t":37.5,"v":9.2},{"s":"G1","t":38,"v":7.9},{"s":"G1","t":38.5,"v":9.5},{"s":"G1","t":39,"v":8.2},{"s":"G1","t":39.5,"v":8.9},{"s":"G1","t":40,"v":8.5},
{"s":"G2","t":0,"v":0},{"s":"G2","t":0.05,"v":50},{"s":"G2","t":10.1,"v":50},{"s":"G2","t":10.5,"v":44},{"s":"G2","t":11,"v":37},{"s":"G2","t":11.5,"v":31.5},{"s":"G2","t":12,"v":27},{"s":"G2","t":12.5,"v":23.4},{"s":"G2","t":13,"v":20.4},{"s":"G2","t":13.5,"v":18.2},{"s":"G2","t":14,"v":16},{"s":"G2","t":14.5,"v":14.8},{"s":"G2","t":15,"v":13},{"s":"G2","t":15.5,"v":12.6},{"s":"G2","t":16,"v":11},{"s":"G2","t":16.5,"v":11.2},{"s":"G2","t":17,"v":9.6},{"s":"G2","t":17.5,"v":10.2},{"s":"G2","t":18,"v":8.6},{"s":"G2","t":18.5,"v":9.6},{"s":"G2","t":19,"v":8},{"s":"G2","t":19.5,"v":9.2},
{"s":"G2","t":20,"v":7.4},{"s":"G2","t":20.5,"v":9.6},{"s":"G2","t":21,"v":7.8},{"s":"G2","t":21.5,"v":10.4},{"s":"G2","t":22,"v":8.2},{"s":"G2","t":22.5,"v":11.4},{"s":"G2","t":23,"v":7.6},{"s":"G2","t":23.5,"v":10},{"s":"G2","t":24,"v":7.2},{"s":"G2","t":24.5,"v":9},{"s":"G2","t":25,"v":7.5},{"s":"G2","t":25.5,"v":9.4},{"s":"G2","t":26,"v":7.1},{"s":"G2","t":26.5,"v":8.8},{"s":"G2","t":27,"v":7.4},{"s":"G2","t":27.5,"v":9},{"s":"G2","t":28,"v":7.8},{"s":"G2","t":28.5,"v":9.3},{"s":"G2","t":29,"v":7.2},{"s":"G2","t":29.5,"v":8.6},{"s":"G2","t":30,"v":7.6},{"s":"G2","t":30.5,"v":9.1},{"s":"G2","t":31,"v":7.9},{"s":"G2","t":31.5,"v":8.7},{"s":"G2","t":32,"v":7.3},{"s":"G2","t":32.5,"v":9.2},{"s":"G2","t":33,"v":7.6},{"s":"G2","t":33.5,"v":8.9},{"s":"G2","t":34,"v":7.9},{"s":"G2","t":34.5,"v":9.4},{"s":"G2","t":35,"v":7.5},{"s":"G2","t":35.5,"v":8.8},{"s":"G2","t":36,"v":7.8},{"s":"G2","t":36.5,"v":9.3},{"s":"G2","t":37,"v":8.1},{"s":"G2","t":37.5,"v":8.7},{"s":"G2","t":38,"v":7.6},{"s":"G2","t":38.5,"v":9.1},{"s":"G2","t":39,"v":7.9},{"s":"G2","t":39.5,"v":9.5},{"s":"G2","t":40,"v":8.3},
{"s":"G3","t":0,"v":0},{"s":"G3","t":0.05,"v":50},{"s":"G3","t":10.2,"v":50},{"s":"G3","t":10.7,"v":45.5},{"s":"G3","t":11.2,"v":40},{"s":"G3","t":11.7,"v":35.6},{"s":"G3","t":12.2,"v":31.6},{"s":"G3","t":12.7,"v":28.2},{"s":"G3","t":13.2,"v":25.2},{"s":"G3","t":13.7,"v":22.6},{"s":"G3","t":14.2,"v":20.4},{"s":"G3","t":14.7,"v":18.2},{"s":"G3","t":15.2,"v":17.2},{"s":"G3","t":15.7,"v":15.2},{"s":"G3","t":16.2,"v":14.8},{"s":"G3","t":16.7,"v":13},{"s":"G3","t":17.2,"v":13},{"s":"G3","t":17.7,"v":11.4},{"s":"G3","t":18.2,"v":11.6},{"s":"G3","t":18.7,"v":10.2},{"s":"G3","t":19.2,"v":10.6},{"s":"G3","t":19.7,"v":9.2},
{"s":"G3","t":20.2,"v":10.8},{"s":"G3","t":20.7,"v":9},{"s":"G3","t":21.2,"v":11.2},{"s":"G3","t":21.7,"v":8.6},{"s":"G3","t":22.2,"v":10},{"s":"G3","t":22.7,"v":8},{"s":"G3","t":23.2,"v":9.4},{"s":"G3","t":23.7,"v":4.8},{"s":"G3","t":24.2,"v":8.8},{"s":"G3","t":24.7,"v":7.7},{"s":"G3","t":25.2,"v":9.6},{"s":"G3","t":25.7,"v":7.9},{"s":"G3","t":26.2,"v":9.2},{"s":"G3","t":26.7,"v":7.6},{"s":"G3","t":27.2,"v":8.9},{"s":"G3","t":27.7,"v":7.3},{"s":"G3","t":28.2,"v":9.1},{"s":"G3","t":28.7,"v":7.8},{"s":"G3","t":29.2,"v":9.4},{"s":"G3","t":29.7,"v":7.5},{"s":"G3","t":30.2,"v":8.8},{"s":"G3","t":30.7,"v":7.7},{"s":"G3","t":31.2,"v":9.3},{"s":"G3","t":31.7,"v":8},{"s":"G3","t":32.2,"v":8.9},{"s":"G3","t":32.7,"v":7.4},{"s":"G3","t":33.2,"v":9.2},{"s":"G3","t":33.7,"v":7.8},{"s":"G3","t":34.2,"v":9.5},{"s":"G3","t":34.7,"v":8.1},{"s":"G3","t":35.2,"v":8.7},{"s":"G3","t":35.7,"v":7.5},{"s":"G3","t":36.2,"v":9.1},{"s":"G3","t":36.7,"v":7.9},{"s":"G3","t":37.2,"v":9.4},{"s":"G3","t":37.7,"v":8.2},{"s":"G3","t":38.2,"v":8.8},{"s":"G3","t":38.7,"v":7.6},{"s":"G3","t":39.2,"v":9.3},{"s":"G3","t":39.7,"v":8},{"s":"G3","t":40,"v":8.9}
]
},
"resolve":{"scale":{"color":"independent","strokeDash":"independent"},"legend":{"color":"independent","strokeDash":"independent"}},
"vconcat":[
{
"title":"Tumor volume",
"width":777,"height":255,
"data":{"name":"vol"},
"transform":[{"lookup":"s","from":{"data":{"name":"series"},"key":"s","fields":["k","name"]}}],
"encoding":{
"x":{"field":"t","type":"quantitative","scale":{"domain":[0,40],"nice":false,"zero":false},"axis":{"title":null,"values":[0,5,10,15,20,25,30,35,40]}},
"y":{"field":"v","type":"quantitative","scale":{"domain":[0,18000],"nice":false},"axis":{"title":"Volume (mm³)","values":[0,5000,10000,15000],"format":"d"}},
"color":{"field":"name","type":"nominal","scale":{"domain":["Transient between days 5−10","Transient between days 10−15","Transient between days 15−20"],"range":["#0000ff","#ff0000","#00ff00"]},"legend":{"title":null}},
"strokeDash":{"field":"name","type":"nominal","scale":{"domain":["Transient between days 5−10","Transient between days 10−15","Transient between days 15−20"],"range":[[1,0],[13,12],[15,8,2,8]]},"legend":{"title":null}},
"detail":{"field":"s","type":"nominal"}
},
"layer":[
{"transform":[{"filter":{"field":"k","equal":"b"}}],"mark":{"type":"line"}},
{"transform":[{"filter":{"field":"k","equal":"r"}}],"mark":{"type":"line"}},
{"transform":[{"filter":{"field":"k","equal":"g"}}],"mark":{"type":"line"}}
]
},
{
"title":"Control input",
"width":777,"height":256,
"data":{"name":"ctl"},
"transform":[{"lookup":"s","from":{"data":{"name":"series"},"key":"s","fields":["k","name"]}}],
"encoding":{
"x":{"field":"t","type":"quantitative","scale":{"domain":[0,40],"nice":false,"zero":false},"axis":{"title":"Time (day)","values":[0,5,10,15,20,25,30,35,40]}},
"y":{"field":"v","type":"quantitative","scale":{"domain":[0,55],"nice":false},"axis":{"title":"Endostatin (mg/kg)","values":[0,10,20,30,40,50]}},
"color":{"field":"name","type":"nominal","scale":{"domain":["Transient between days 5−10","Transient between days 10−15","Transient between days 15−20"],"range":["#0000ff","#ff0000","#00ff00"]},"legend":{"title":null}},
"strokeDash":{"field":"name","type":"nominal","scale":{"domain":["Transient between days 5−10","Transient between days 10−15","Transient between days 15−20"],"range":[[1,0],[13,12],[15,8,2,8]]},"legend":{"title":null}},
"detail":{"field":"s","type":"nominal"}
},
"layer":[
{"transform":[{"filter":{"field":"k","equal":"b"}}],"mark":{"type":"line"}},
{"transform":[{"filter":{"field":"k","equal":"r"}}],"mark":{"type":"line"}},
{"transform":[{"filter":{"field":"k","equal":"g"}}],"mark":{"type":"line"}}
]
}
]
}
